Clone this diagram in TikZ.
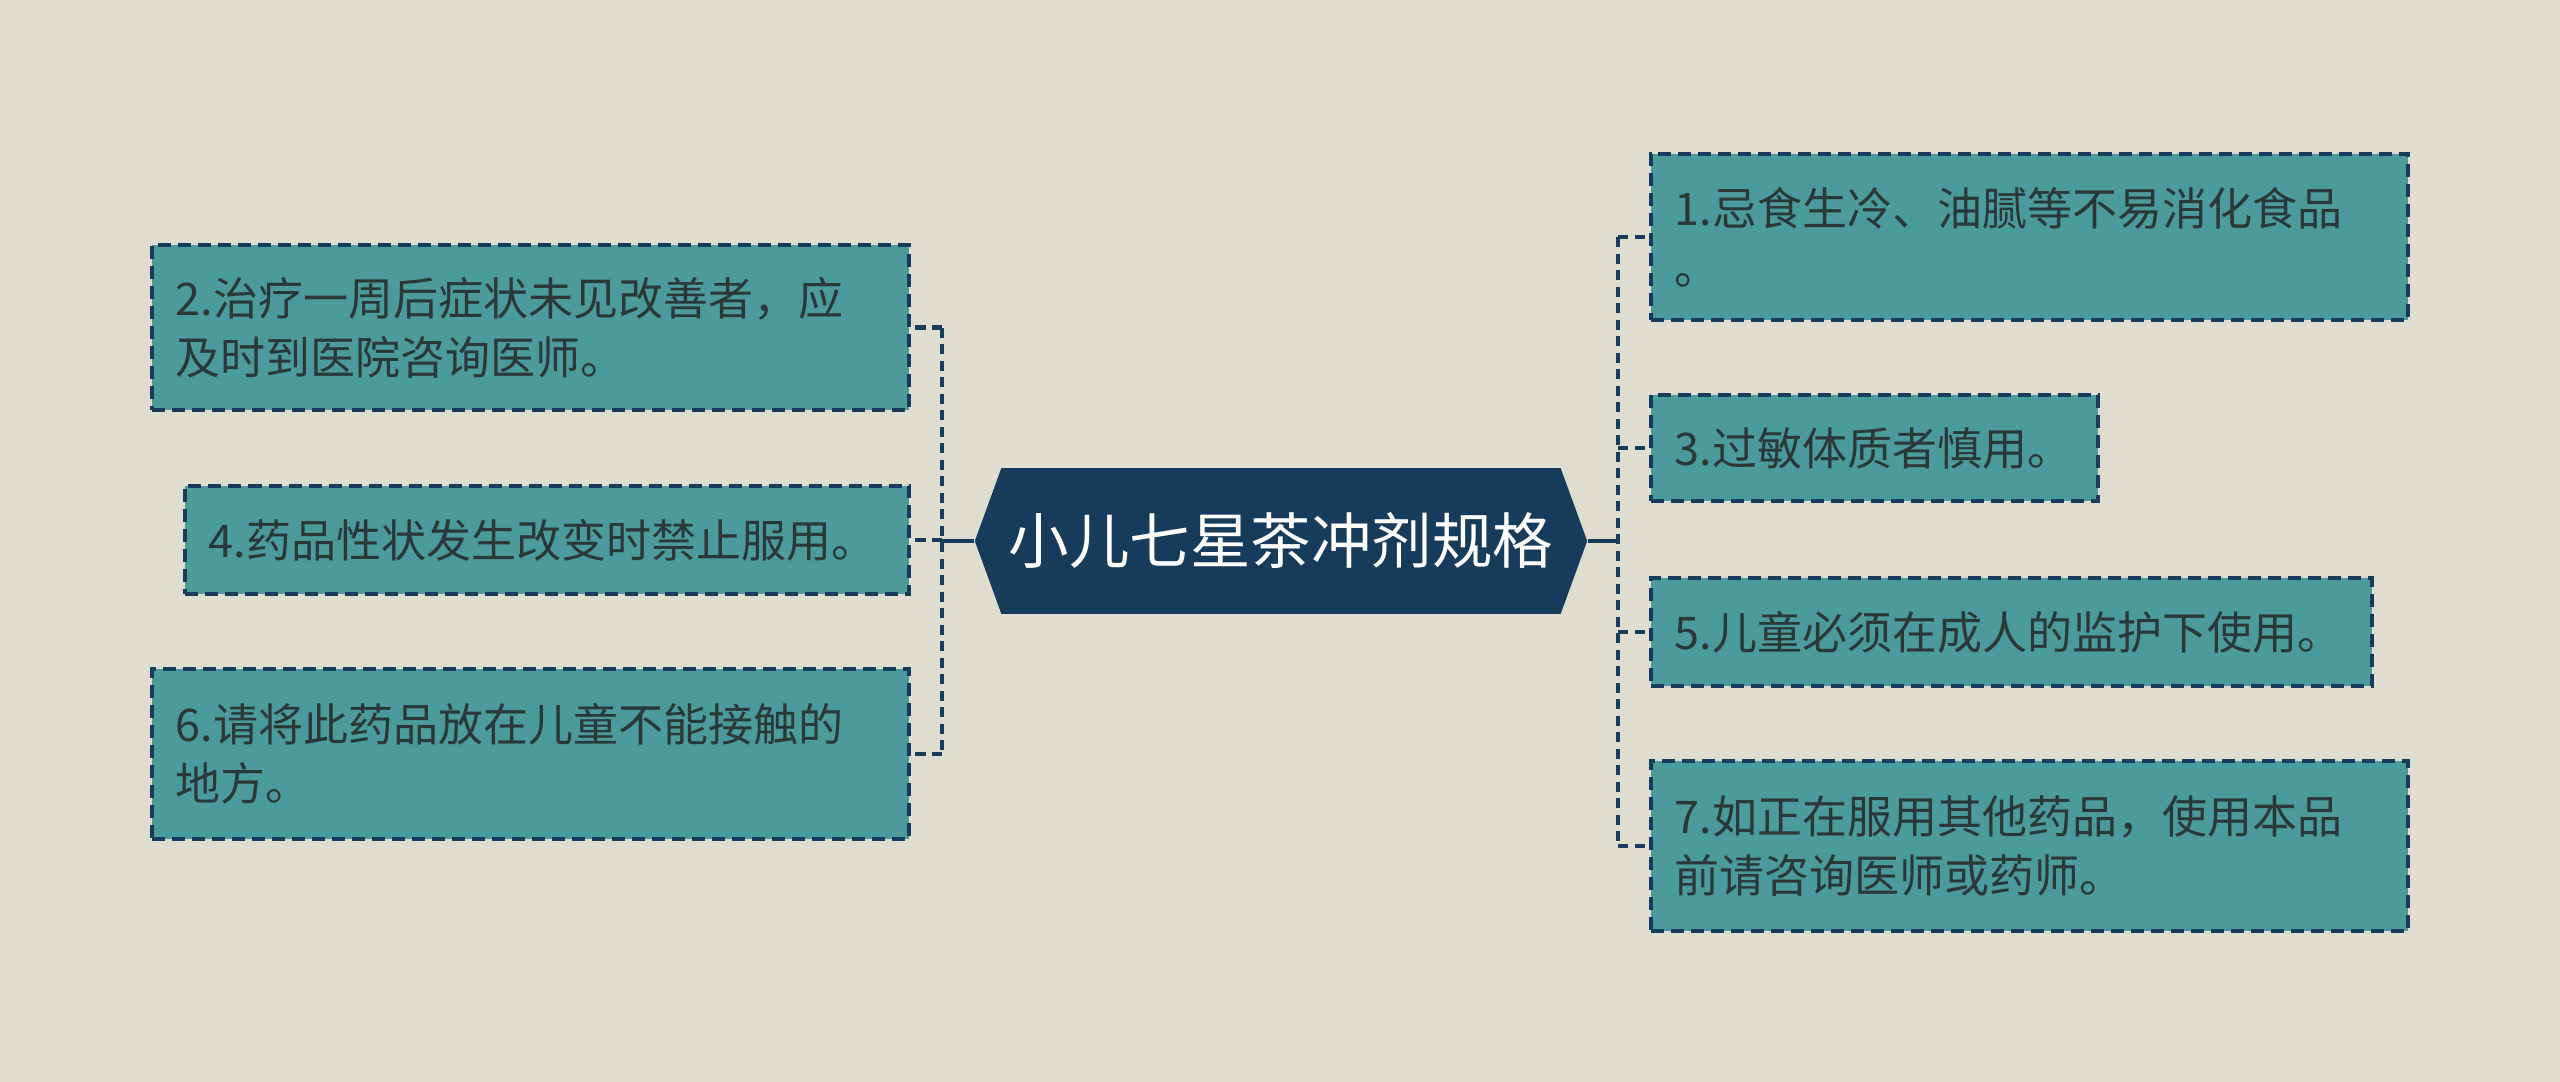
\documentclass[tikz,border=0pt]{standalone}
\usepackage{fontspec}
\setmainfont{Noto Sans CJK SC}
\usepackage{tikz}
\usetikzlibrary{positioning,shapes.symbols}
\definecolor{bgbeige}{HTML}{DFDDD0}
\definecolor{tealbox}{HTML}{4B9B9D}
\definecolor{navy}{HTML}{173B5A}
\definecolor{inktext}{HTML}{2B3838}
\tikzset{
  leaf/.style={draw=navy, fill=tealbox, line width=0.04cm, dash pattern=on 0.13cm off 0.07cm,
    text=inktext, font=\fontsize{12.8}{16.8}\selectfont, align=left,
    inner xsep=0.24cm, inner ysep=0pt},
  hub/.style={signal, signal to=east and west, signal pointer angle=140, fill=navy,
    text=white, font=\fontsize{17.2}{20}\selectfont, inner sep=0pt,
    minimum width=6.12cm, minimum height=1.455cm},
  link/.style={navy, line width=0.045cm, dash pattern=on 0.1cm off 0.065cm},
  stem/.style={navy, line width=0.045cm},
}

\begin{document}
\begin{tikzpicture}[x=0.01cm,y=-0.01cm]
  \fill[bgbeige] (0,0) rectangle (2560,1082);
  \useasboundingbox (0,0) rectangle (2560,1082);
  \node[hub] (hub) at (1281,541) {小儿七星茶冲剂规格};
  % left branches
  \node[leaf, text width=7.09cm, minimum height=1.65cm] (b2) at (530.5,327.5) {2.治疗一周后症状未见改善者，应\\及时到医院咨询医师。};
  \node[leaf, text width=6.765cm, minimum height=1.08cm] (b4) at (547,540) {4.药品性状发生改变时禁止服用。};
  \node[leaf, text width=7.09cm, minimum height=1.70cm] (b6) at (530.5,754) {6.请将此药品放在儿童不能接触的\\地方。};
  % right branches
  \node[leaf, text width=7.09cm, minimum height=1.665cm] (b1) at (2029.5,237) {1.忌食生冷、油腻等不易消化食品\\。};
  \node[leaf, text width=3.99cm, minimum height=1.06cm] (b3) at (1874.5,448) {3.过敏体质者慎用。};
  \node[leaf, text width=6.73cm, minimum height=1.08cm] (b5) at (2011.5,632) {5.儿童必须在成人的监护下使用。};
  \node[leaf, text width=7.09cm, minimum height=1.70cm] (b7) at (2029.5,846) {7.如正在服用其他药品，使用本品\\前请咨询医师或药师。};
  \coordinate (jl) at (942,541);
  \coordinate (jr) at (1618,541);
  \draw[stem] (hub.west) -- (jl);
  \draw[stem] (hub.east) -- (jr);
  \draw[link] (jl |- b2.east) -- (jl |- b6.east);
  \draw[link] (jr |- b1.west) -- (jr |- b7.west);
  \foreach \n in {b2,b4,b6}
    \draw[link] (jl |- \n.east) -- (\n.east);
  \foreach \n in {b1,b3,b5,b7}
    \draw[link] (jr |- \n.west) -- (\n.west);
\end{tikzpicture}
\end{document}
